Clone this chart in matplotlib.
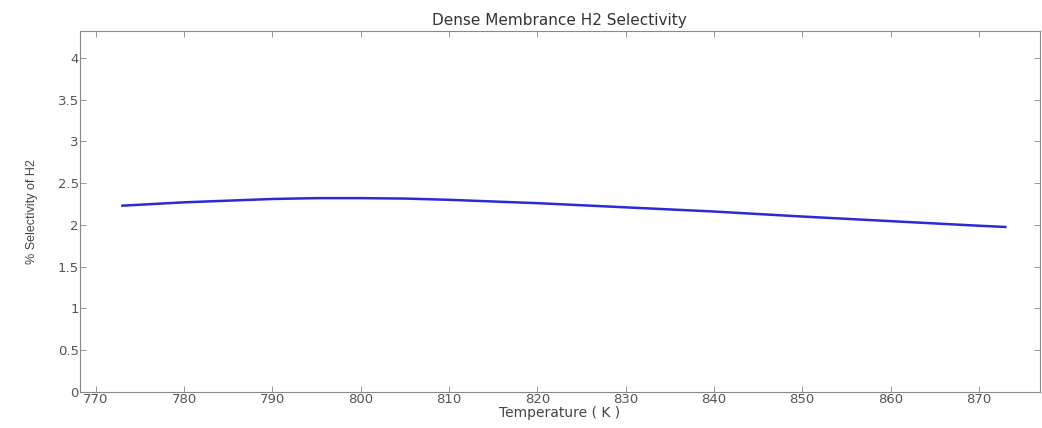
import matplotlib
matplotlib.use("Agg")
import matplotlib.pyplot as plt

temperature = [773, 780, 790, 795, 800, 805, 810, 820, 830, 840, 850, 860, 870, 873]
selectivity = [2.23, 2.27, 2.31, 2.32, 2.32, 2.315, 2.30, 2.26, 2.21, 2.16, 2.10, 2.045, 1.99, 1.975]
xticks = [770, 780, 790, 800, 810, 820, 830, 840, 850, 860, 870]
yticks = [0, 0.5, 1, 1.5, 2, 2.5, 3, 3.5, 4]
ytick_labels = ["0", "0.5", "1", "1.5", "2", "2.5", "3", "3.5", "4"]

fig = plt.figure(figsize=(10.42, 4.28), dpi=100)
ax = fig.add_axes([0.0768, 0.084, 0.921, 0.8436])
ax.plot(temperature, selectivity, color="#2a2ad8", lw=1.8)
ax.set_xlim(768.2, 876.9)
ax.set_ylim(0, 4.32)
ax.set_xticks(xticks)
ax.set_yticks(yticks)
ax.set_yticklabels(ytick_labels)
ax.tick_params(direction="in", top=True, right=True, length=4, width=0.6,
               colors="#888888", labelcolor="#555555", labelsize=9.5, pad=1)
for s in ax.spines.values():
    s.set_color("#888888")
    s.set_linewidth(0.8)
ax.set_title("Dense Membrance H2 Selectivity", fontsize=11, color="#333333", pad=4)
ax.set_xlabel("Temperature ( K )", fontsize=10, color="#444444", labelpad=0)
ax.set_ylabel("% Selectivity of H2", fontsize=9, color="#444444",
              family=["Liberation Sans", "DejaVu Sans"], labelpad=14)
fig.savefig("out.png", dpi=100)
